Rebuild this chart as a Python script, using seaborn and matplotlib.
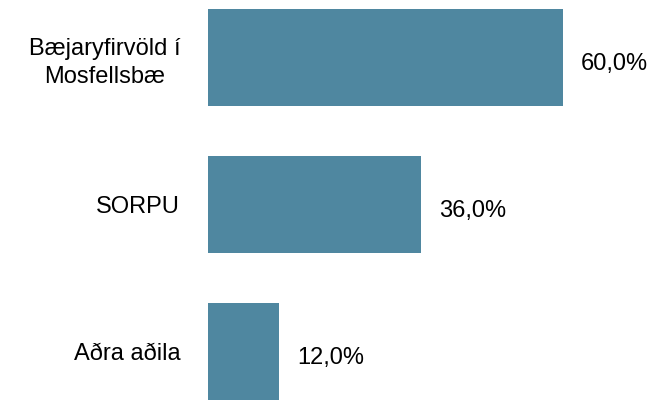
import pandas as pd
import matplotlib
matplotlib.use("Agg")
import matplotlib.pyplot as plt
import seaborn as sns

# data
categories = ["Bæjaryfirvöld í\nMosfellsbæ", "SORPU", "Aðra aðila"]
values = [60.0, 36.0, 12.0]

BAR_COLOR = "#4f87a0"
FS = 17

sns.set_style("white")
plt.rcParams["font.family"] = ["Liberation Sans", "DejaVu Sans"]

df = pd.DataFrame({"category": categories, "pct": values})

fig = plt.figure(figsize=(6.59, 4.00), dpi=100)
ax = fig.add_axes([208 / 659, 0, 451 / 659, 1])

sns.barplot(data=df, x="pct", y="category", orient="h", color=BAR_COLOR,
            saturation=1, width=0.66, linewidth=0, ax=ax)

# pixel scale: 60% -> 355 px, 147 px between bars
ax.set_xlim(0, 451 / (355 / 60))
ax.set_ylim(2 + 48.5 / 147, -58 / 147)

for s in ax.spines.values():
    s.set_visible(False)
ax.set_xticks([])
ax.set_xlabel("")
ax.set_ylabel("")
ax.tick_params(axis="y", length=0, pad=20, colors="black")
for lbl in ax.get_yticklabels():
    lbl.set_fontsize(FS)
    lbl.set_multialignment("center")
    lbl.set_linespacing(1.35)

for i, v in enumerate(values):
    ax.annotate(f"{v:.1f}%".replace(".", ","), xy=(v, i), xytext=(13, -4.5),
                textcoords="offset points", ha="left", va="center",
                fontsize=FS, color="black")

fig.savefig("out.png", dpi=100)
